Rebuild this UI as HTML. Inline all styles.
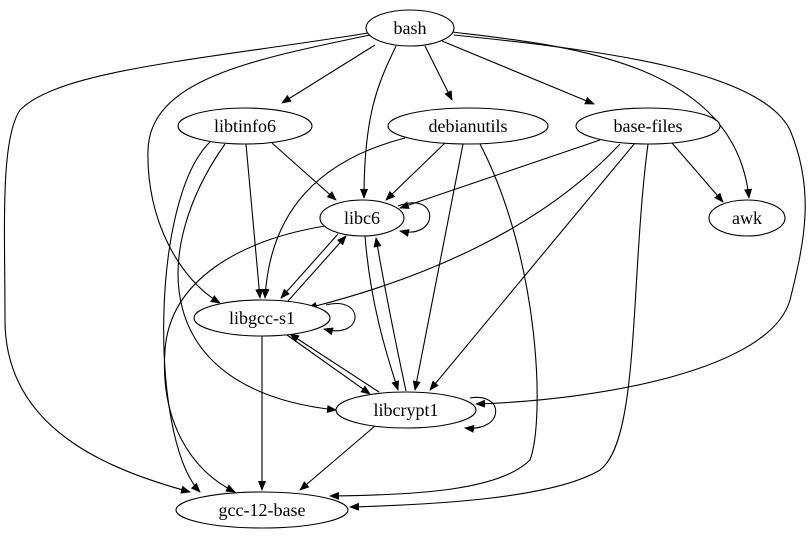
<!DOCTYPE html>
<html><head><style>body{margin:0;background:#fff}svg{display:block}text{font-family:"Liberation Serif",serif;font-size:18px;text-anchor:middle}</style></head>
<body>
<svg width="810" height="539" viewBox="0 0 810 539" xmlns="http://www.w3.org/2000/svg">
<defs><marker id="a" markerWidth="10" markerHeight="8" refX="9" refY="4" orient="auto" markerUnits="userSpaceOnUse"><path d="M0,0 L10,4 L0,8 z" fill="#000"/></marker></defs>
<g fill="none" stroke="#000" stroke-width="1.1" marker-end="url(#a)">
<path d="M375,45 L282,103"/>
<path d="M425,46 L452,100"/>
<path d="M442,41 L594,104"/>
<path d="M396,46 C380,80 364,110 364,198"/>
<path d="M452,32 C560,45 735,60 749,198"/>
<path d="M370,35 C250,60 150,80 148,150 C146,220 180,280 220,303"/>
<path d="M368,33 C200,60 60,70 20,110 C0,140 5,230 5,320 C5,430 110,470 190,492"/>
<path d="M454,35 C600,50 760,70 790,130 C815,190 805,240 790,300 C770,370 600,400 476,404"/>
<path d="M272,143 L336,200"/>
<path d="M246,144 L260,298"/>
<path d="M225,144 C150,250 150,390 336,410"/>
<path d="M210,142 C150,200 150,440 200,492"/>
<path d="M445,143 L386,200"/>
<path d="M405,138 C320,160 270,210 265,298"/>
<path d="M463,144 L415,390"/>
<path d="M480,144 C540,260 545,420 530,460 C500,490 420,495 330,496"/>
<path d="M600,140 L400,208"/>
<path d="M672,143 L723,202"/>
<path d="M620,144 C540,230 420,280 308,308"/>
<path d="M635,143 L430,390"/>
<path d="M648,144 C630,280 640,440 600,470 C550,500 420,505 350,507"/>
<path d="M398,206 C440,190 440,240 400,231"/>
<path d="M338,234 L281,298"/>
<path d="M288,301 L346,236"/>
<path d="M365,236 C370,300 385,350 398,390"/>
<path d="M406,391 C395,340 385,290 376,238"/>
<path d="M325,226 C240,240 170,280 165,350 C160,420 190,470 235,492"/>
<path d="M326,305 C365,295 365,340 324,329"/>
<path d="M287,335 L370,394"/>
<path d="M379,392 L290,334"/>
<path d="M262,336 L262,490"/>
<path d="M470,398 C505,392 505,432 465,428"/>
<path d="M375,426 L300,490"/>
</g>
<g fill="#fff" stroke="#000" stroke-width="1.1">
<ellipse cx="410" cy="28" rx="44" ry="18"/>
<ellipse cx="245" cy="126" rx="67" ry="18"/>
<ellipse cx="468" cy="126" rx="80" ry="18"/>
<ellipse cx="648" cy="126" rx="72" ry="18"/>
<ellipse cx="362" cy="218" rx="42" ry="18"/>
<ellipse cx="747" cy="218" rx="38" ry="18"/>
<ellipse cx="262" cy="318" rx="68" ry="18"/>
<ellipse cx="406" cy="410" rx="70" ry="18"/>
<ellipse cx="262" cy="510" rx="86" ry="18"/>
</g>
<g>
<text x="410" y="34">bash</text>
<text x="245" y="132">libtinfo6</text>
<text x="468" y="132">debianutils</text>
<text x="648" y="132">base-files</text>
<text x="362" y="224">libc6</text>
<text x="747" y="224">awk</text>
<text x="262" y="324">libgcc-s1</text>
<text x="406" y="416">libcrypt1</text>
<text x="262" y="516">gcc-12-base</text>
</g>
</svg>
</body></html>
